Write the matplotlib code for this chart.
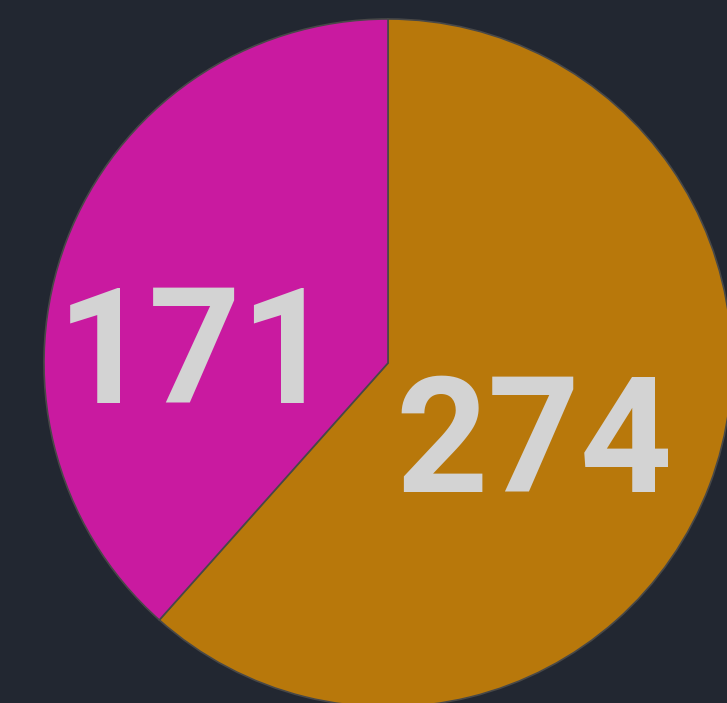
import matplotlib
matplotlib.use("Agg")
from matplotlib import pyplot as plt

values = [274, 171]
labels = ["274", "171"]
colors = ["#B8780B", "#C91AA0"]
# label anchor offsets (in pie-radius units), baseline-aligned
label_pos = [(0.424, -0.375), (-0.56, -0.116)]

bg = "#222731"
W, H = 727, 703
cx, cy, r = 388, 363, 344

fig = plt.figure(figsize=(W / 100, H / 100), dpi=100, facecolor=bg)
ax = fig.add_axes([0, 0, 1, 1])
ax.set_facecolor(bg)

wedges, _ = ax.pie(values, colors=colors, startangle=90, counterclock=False,
                   wedgeprops=dict(edgecolor="#484848", linewidth=1.2))

for txt, (x, y) in zip(labels, label_pos):
    ax.text(x, y, txt, ha="center", va="baseline", color="#D3D3D3",
            fontsize=116, fontweight="bold", family=["Roboto", "DejaVu Sans"])

ax.set_xlim(-cx / r, (W - cx) / r)
ax.set_ylim(-(H - cy) / r, cy / r)
ax.set_aspect("auto")
ax.axis("off")

fig.savefig("out.png", dpi=100, facecolor=bg)
